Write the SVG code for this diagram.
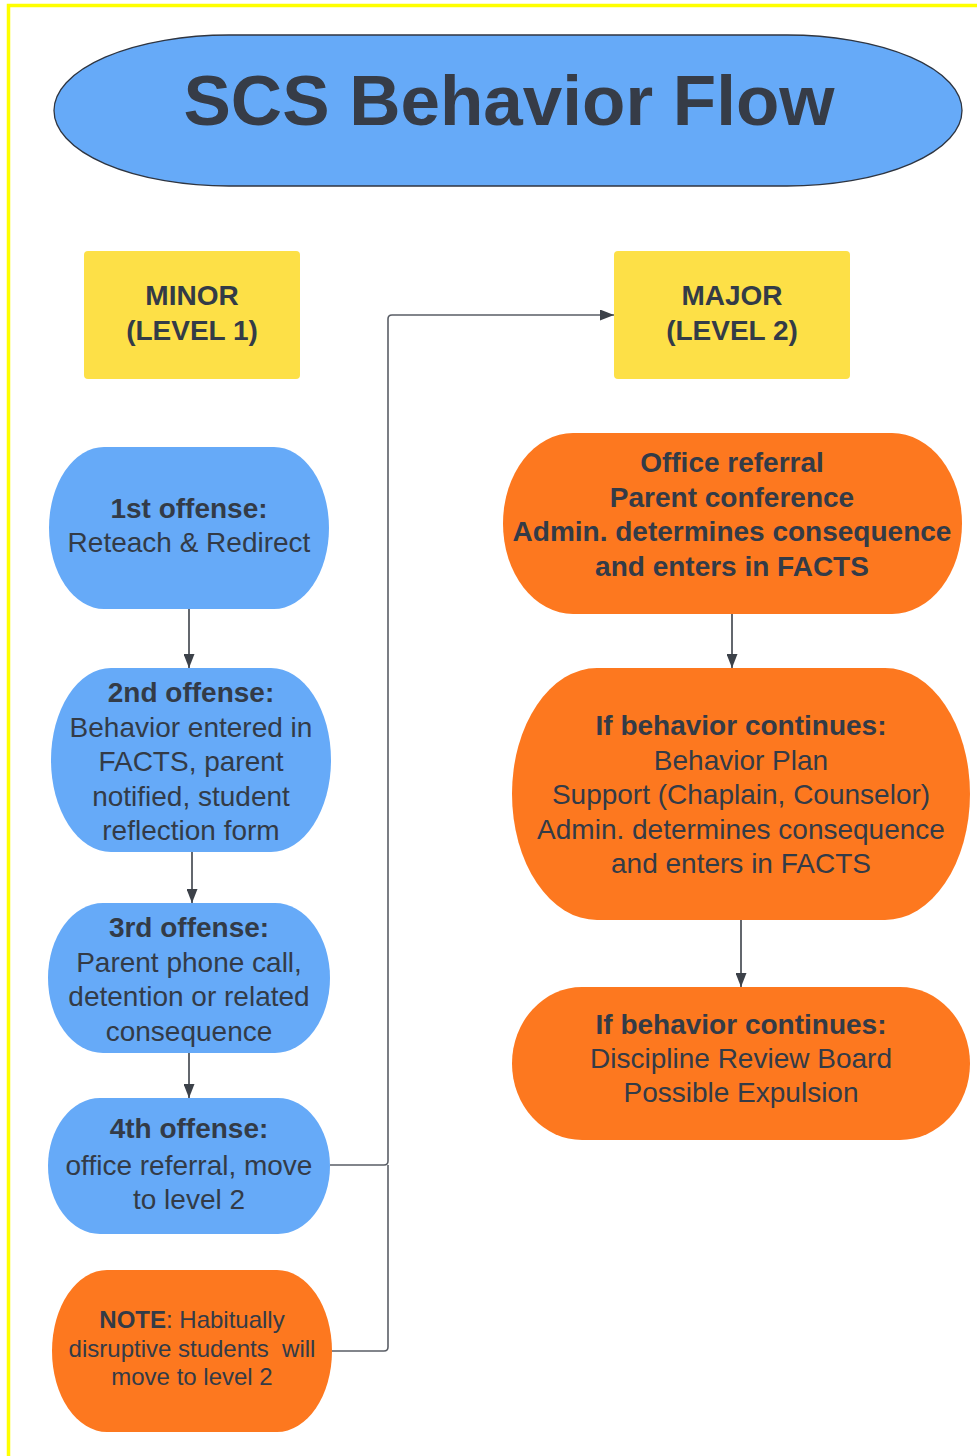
<svg xmlns="http://www.w3.org/2000/svg" width="977" height="1456" viewBox="0 0 977 1456">
<defs>
<style>
text{font-family:"Liberation Sans",Arial,sans-serif;fill:#333b47;text-anchor:middle}
.b{font-weight:bold}
.t28{font-size:28px}
.t24{font-size:24px}
.blue{fill:#66aaf8}
.orange{fill:#fd781f}
.yellow{fill:#fde047}
.conn{fill:none;stroke:#3c4149;stroke-width:1.6}
.elbow{fill:none;stroke:#5a5e66;stroke-width:1.6}
</style>
<marker id="ah" viewBox="0 0 14 11" refX="14" refY="5.5" markerWidth="14" markerHeight="11" markerUnits="userSpaceOnUse" orient="auto">
<path d="M0,0 L14,5.5 L0,11 Z" fill="#3c4149"/>
</marker>
</defs>
<rect width="977" height="1456" fill="#ffffff"/>
<path d="M8.5,1456 V5.5 H977" fill="none" stroke="#ffff00" stroke-width="3.5"/>

<g id="title">
<rect x="54" y="35" width="908" height="151" rx="175" ry="75.5" fill="#66aaf8" stroke="#2f3540" stroke-width="1.3"/>
<text x="509" y="125" class="b" style="font-size:71px;fill:#363c47">SCS Behavior Flow</text>
</g>

<g id="minor">
<rect x="84" y="251" width="216" height="128" rx="4" class="yellow"/>
<text x="192" y="305" class="b t28">MINOR</text>
<text x="192" y="340" class="b t28">(LEVEL 1)</text>
</g>

<g id="major">
<rect x="614" y="251" width="236" height="128" rx="4" class="yellow"/>
<text x="732" y="305" class="b t28">MAJOR</text>
<text x="732" y="340" class="b t28">(LEVEL 2)</text>
</g>

<g id="offense1">
<rect x="49" y="447" width="280" height="162" rx="55" ry="81" class="blue"/>
<text x="189" y="518" class="b t28">1st offense:</text>
<text x="189" y="552" class="t28">Reteach &amp; Redirect</text>
</g>

<g id="offense2">
<rect x="51" y="668" width="280" height="184" rx="60" ry="92" class="blue"/>
<text x="191" y="702" class="b t28">2nd offense:</text>
<text x="191" y="737" class="t28">Behavior entered in</text>
<text x="191" y="771" class="t28">FACTS, parent</text>
<text x="191" y="806" class="t28">notified, student</text>
<text x="191" y="840" class="t28">reflection form</text>
</g>

<g id="offense3">
<rect x="48" y="903" width="282" height="150" rx="55" ry="75" class="blue"/>
<text x="189" y="937" class="b t28">3rd offense:</text>
<text x="189" y="972" class="t28">Parent phone call,</text>
<text x="189" y="1006" class="t28">detention or related</text>
<text x="189" y="1041" class="t28">consequence</text>
</g>

<g id="offense4">
<rect x="48" y="1098" width="282" height="136" rx="52" ry="68" class="blue"/>
<text x="189" y="1138" class="b t28">4th offense:</text>
<text x="189" y="1175" class="t28">office referral, move</text>
<text x="189" y="1209" class="t28">to level 2</text>
</g>

<g id="note">
<rect x="52" y="1270" width="280" height="162" rx="55" ry="81" class="orange"/>
<text x="192" y="1328" class="t24"><tspan class="b">NOTE</tspan>: Habitually</text>
<text x="192" y="1357" class="t24" xml:space="preserve">disruptive students  will</text>
<text x="192" y="1385" class="t24">move to level 2</text>
</g>

<g id="office">
<rect x="503" y="433" width="459" height="181" rx="70" ry="90.5" class="orange"/>
<text x="732" y="472" class="b t28">Office referral</text>
<text x="732" y="507" class="b t28">Parent conference</text>
<text x="732" y="541" class="b t28">Admin. determines consequence</text>
<text x="732" y="576" class="b t28">and enters in FACTS</text>
</g>

<g id="continues1">
<rect x="512" y="668" width="458" height="252" rx="85" ry="126" class="orange"/>
<text x="741" y="735" class="b t28">If behavior continues:</text>
<text x="741" y="770" class="t28">Behavior Plan</text>
<text x="741" y="804" class="t28">Support (Chaplain, Counselor)</text>
<text x="741" y="839" class="t28">Admin. determines consequence</text>
<text x="741" y="873" class="t28">and enters in FACTS</text>
</g>

<g id="continues2">
<rect x="512" y="987" width="458" height="153" rx="70" ry="76.5" class="orange"/>
<text x="741" y="1034" class="b t28">If behavior continues:</text>
<text x="741" y="1068" class="t28">Discipline Review Board</text>
<text x="741" y="1102" class="t28">Possible Expulsion</text>
</g>

<g id="connectors">
<path class="conn" d="M189,609 V668" marker-end="url(#ah)"/>
<path class="conn" d="M192,852 V903" marker-end="url(#ah)"/>
<path class="conn" d="M189,1053 V1098" marker-end="url(#ah)"/>
<path class="conn" d="M732,614 V668" marker-end="url(#ah)"/>
<path class="conn" d="M741,920 V987" marker-end="url(#ah)"/>
<path class="elbow" d="M330,1165 H384 Q388,1165 388,1161 V319 Q388,315 392,315 H614" marker-end="url(#ah)"/>
<path class="elbow" d="M332,1351 H384 Q388,1351 388,1347 V1165"/>
</g>
</svg>
